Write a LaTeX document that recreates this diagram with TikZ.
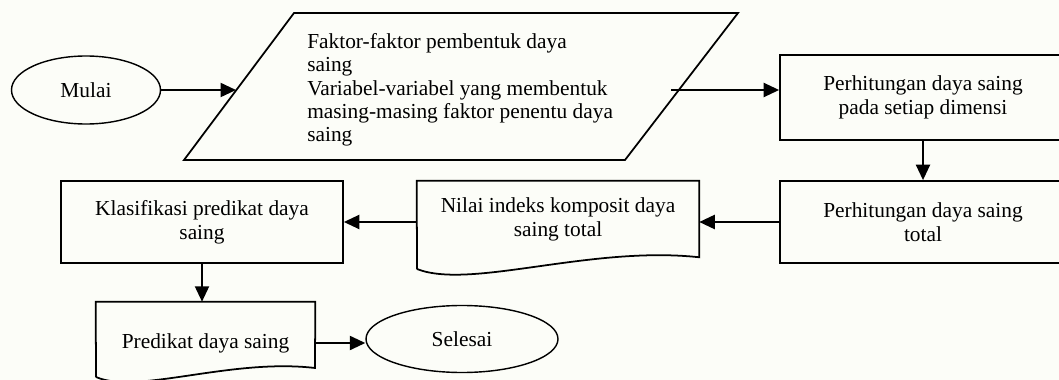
\documentclass[tikz,border=0pt]{standalone}
\usepackage{fontspec}
\setmainfont{Liberation Serif}
\usetikzlibrary{shapes.geometric,arrows.meta}
\definecolor{paper}{RGB}{252,253,248}

\begin{document}
\begin{tikzpicture}[x=0.025cm,y=-0.025cm,
  font=\fontsize{15.2}{17.2}\selectfont,
  kotak/.style={draw,line width=1.25pt,align=center},
  dokumen/.style={align=center},
  garis/.style={line width=1.25pt},
  oval/.style={draw,ellipse,line width=1pt},
  panah/.style={-{Triangle[length=11pt,width=10pt]},line width=1.4pt}]

% Size of one pixel of the original figure
\def\pix{0.025cm}

\useasboundingbox (0,0) rectangle (1059,380);
\fill[paper] (0,0) rectangle (1059,380);
\clip (0,0) rectangle (1059,380);

% Start
\node[oval,minimum width=149*\pix,minimum height=68*\pix] (mulai) at (86,90) {Mulai};

% Input data (parallelogram)
\draw[garis] (184,160) -- (294,13) -- (738,13) -- (625,160) -- cycle;
\node[anchor=west,align=left,inner sep=0pt,font=\fontsize{15.2}{16.6}\selectfont] (masukan) at (307,90)
  {Faktor-faktor pembentuk daya\\saing\\Variabel-variabel yang membentuk\\masing-masing faktor penentu daya\\saing};
\coordinate (masukanKiri) at (236,90);
\coordinate (masukanKanan) at (671,90);

% Processes
\node[kotak,minimum width=286*\pix,minimum height=85*\pix] (dimensi) at (923,97.5) {Perhitungan daya saing\\pada setiap dimensi};
\node[kotak,minimum width=286*\pix,minimum height=82*\pix] (total) at (923,222) {Perhitungan daya saing\\total};
\node[kotak,minimum width=282*\pix,minimum height=82*\pix] (klasifikasi) at (202,222) {Klasifikasi predikat daya\\saing};

% Documents (wavy bottom)
\node[dokumen,minimum width=282*\pix,minimum height=76*\pix] (nilai) at (558,219) {Nilai indeks komposit daya\\saing total};
\draw[garis] (417,269) -- (nilai.north west) -- (nilai.north east) -- (nilai.south east)
  .. controls +(-109,-12) and +(53,21) .. (417,269);
\node[dokumen,minimum width=219*\pix,minimum height=82*\pix] (predikat) at (205.5,343) {Predikat daya saing};
\draw[garis] (96,377) -- (predikat.north west) -- (predikat.north east) -- (315,368)
  .. controls +(-85,-10) and +(41,18) .. (96,377);

% Stop
\node[oval,minimum width=192*\pix,minimum height=67*\pix] (selesai) at (462,339) {Selesai};

% Connectors
\draw[panah] (mulai.east) -- (masukanKiri);
\draw[panah] (masukanKanan) -- (masukanKanan -| dimensi.west);
\draw[panah] (dimensi) -- (total);
\draw[panah] (total.west) -- (total.west -| nilai.east);
\draw[panah] (klasifikasi.east -| nilai.west) -- (klasifikasi.east);
\draw[panah] (klasifikasi.south) -- (klasifikasi.south |- predikat.north);
\draw[panah] (predikat.east) -- (predikat.east -| selesai.west);

\end{tikzpicture}
\end{document}
